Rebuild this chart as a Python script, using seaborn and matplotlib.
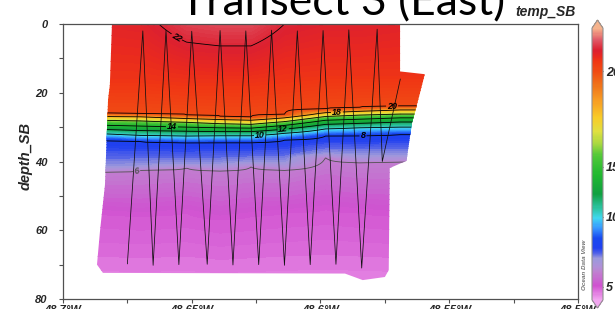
import numpy as np
import matplotlib
matplotlib.use("Agg")
import matplotlib.pyplot as plt
from matplotlib.colors import LinearSegmentedColormap, FuncNorm
from matplotlib.patches import Polygon
import seaborn as sns

# Section columns used for the gridded field (longitude, west is negative)
col_lon = [-48.688, -48.670, -48.652, -48.639, -48.627, -48.614, -48.598, -48.585, -48.569, -48.555]

surf_temp = [21.6, 21.7, 22.45, 22.6, 22.6, 22.0, 21.8, 21.8, 21.7, 21.7]
bottom_temp = [4.4, 4.4, 4.4, 4.4, 4.4, 4.4, 4.4, 4.4, 4.4, 4.4]
d21 = [16, 16, 17, 17, 17, 16, 15, 15, 15, 15]
d20 = [25.8, 26.0, 26.4, 26.8, 27.0, 26.3, 24.7, 24.3, 23.8, 23.8]
d18 = [26.9, 27.0, 27.5, 27.8, 28.0, 27.3, 25.8, 25.4, 25.0, 25.0]
d16 = [28.0, 28.2, 28.6, 29.0, 29.2, 28.4, 26.9, 26.5, 26.2, 26.2]
d14 = [29.4, 29.7, 30.0, 30.2, 30.3, 29.5, 28.0, 27.7, 27.3, 27.3]
d12 = [30.6, 31.0, 31.2, 31.3, 31.3, 30.6, 29.2, 28.9, 28.5, 28.5]
d10 = [31.8, 32.4, 32.6, 32.5, 32.5, 31.8, 30.5, 30.2, 30.0, 30.0]
d8 = [33.4, 34.2, 34.6, 34.5, 34.5, 33.8, 32.6, 32.5, 32.2, 32.2]
d7 = [41.5, 41.0, 40.5, 40.5, 40.0, 40.0, 37.5, 38.0, 38.0, 38.0]
d6 = [43.2, 42.6, 41.9, 42.8, 41.6, 42.6, 38.9, 40.4, 40.1, 40.1]
d5 = [55, 56, 55, 57, 56, 55, 54, 55, 56, 56]

# Outline of the data coverage
cover_lon = [-48.681, -48.5691, -48.5691, -48.5595, -48.5622, -48.5645, -48.5666, -48.5731,
             -48.5735, -48.575, -48.5836, -48.5905, -48.6845, -48.6868, -48.6856, -48.6837,
             -48.6825, -48.6818]
cover_depth = [0.3, 0.3, 13.8, 14.6, 22.5, 28.8, 39.8, 41.9, 71.6, 73.6, 74.5, 72.6, 72.4,
               70.0, 60.0, 46.8, 22.0, 17.7]

# Towed profiler track (yo-yo)
track_lon = [-48.675, -48.669, -48.665, -48.660, -48.655, -48.650, -48.644, -48.639, -48.634,
             -48.629, -48.624, -48.619, -48.614, -48.609, -48.604, -48.599, -48.594, -48.589,
             -48.584, -48.578, -48.576, -48.569]
track_depth = [69.8, 2.0, 70.2, 1.8, 70.0, 2.1, 69.9, 1.9, 70.1, 2.0, 70.0, 1.8, 70.2, 2.0,
               70.0, 1.9, 69.9, 1.7, 71.0, 1.5, 40.0, 16.0]

# Contour levels and where their labels sit
line_levels = [6, 8, 10, 12, 14, 16, 18, 20, 22]
label_lon = [-48.6713, -48.5835, -48.6235, -48.6146, -48.6577, -48.5936, -48.5722, -48.6546]
label_depth = [43.4, 32.6, 32.3, 30.7, 30.2, 26.0, 23.8, 2.2]

# Axis ticks
x_major = [-48.7, -48.65, -48.6, -48.55, -48.5]
x_labels = ["48.7°W", "48.65°W", "48.6°W", "48.55°W", "48.5°W"]
x_minor = [-48.675, -48.625, -48.575, -48.525]
y_major = [0, 20, 40, 60, 80]
y_minor = [10, 30, 50, 70]
cb_ticks = [5, 10, 15, 20]

# ODV style non-linear colour scale
scale_vals = [-50, 4, 5, 10, 15, 20, 24, 80]
scale_pos = [-2.592, 0, 0.048, 0.305, 0.489, 0.842, 1.0, 3.212]
cmap_pos = [0.0, 0.05, 0.10, 0.12, 0.15, 0.17, 0.19, 0.225, 0.265, 0.30, 0.33, 0.39, 0.46,
            0.53, 0.575, 0.62, 0.67, 0.73, 0.79, 0.842, 0.88, 0.90, 0.92, 0.96, 1.0]
cmap_colors = ["#f2a6f0", "#d050d0", "#c080d0", "#b090d8", "#9c98dc", "#5060e8", "#2040f0",
               "#1848f0", "#3898ff", "#40d8f0", "#30c8b0", "#10a040", "#20b830", "#50c838",
               "#a8d840", "#e0e040", "#f8cc28", "#f8a024", "#f0741a", "#f04c14", "#f03614",
               "#e82820", "#dc2030", "#e05a68", "#f6b38c"]


def fwd(v):
    return np.interp(v, scale_vals, scale_pos)


def inv(p):
    return np.interp(p, scale_pos, scale_vals)


sns.set_style("ticks")
plt.rcParams['font.family'] = ['Liberation Sans', 'DejaVu Sans']

# temperature profiles per column
iso_temps = [21, 20, 18, 16, 14, 12, 10, 8, 7, 6, 5]
iso_depths = [d21, d20, d18, d16, d14, d12, d10, d8, d7, d6, d5]
zz = np.linspace(0, 80, 401)
temp = np.empty((len(zz), len(col_lon)))
for j in range(len(col_lon)):
    dep = [0] + [d[j] for d in iso_depths] + [80]
    tmp = [surf_temp[j]] + iso_temps + [bottom_temp[j]]
    temp[:, j] = np.interp(zz, dep, tmp)

cmap = LinearSegmentedColormap.from_list("odv", list(zip(cmap_pos, cmap_colors)))
norm = FuncNorm((fwd, inv), vmin=4, vmax=24)

fig = plt.figure(figsize=(6.15, 3.09), dpi=100)
ax = fig.add_axes([63 / 615, 1 - 299 / 309, 515 / 615, 275 / 309])

coverage = Polygon(np.column_stack([cover_lon, cover_depth]), closed=True,
                   transform=ax.transData, facecolor="none", edgecolor="none")

cf = ax.contourf(col_lon, zz, temp, levels=np.linspace(4, 24, 201), cmap=cmap, norm=norm)
cf.set_clip_path(coverage)

line_colors = ["#505050"] + ["black"] * (len(line_levels) - 1)
cl = ax.contour(col_lon, zz, temp, levels=line_levels, colors=line_colors, linewidths=0.6)
cl.set_clip_path(coverage)

sns.lineplot(x=track_lon, y=track_depth, sort=False, estimator=None, color="#101010",
             lw=0.55, ax=ax, zorder=3)

ax.set_xlim(-48.7, -48.5)
ax.set_ylim(80, 0)

labels = ax.clabel(cl, manual=list(zip(label_lon, label_depth)),
                   fmt="%d", fontsize=6.5, inline=True, inline_spacing=1)
for t in labels:
    t.set_fontweight("bold")
    t.set_fontstyle("italic")

ax.set_xticks(x_major)
ax.set_xticklabels(x_labels)
ax.set_xticks(x_minor, minor=True)
ax.set_yticks(y_major)
ax.set_yticks(y_minor, minor=True)
ax.tick_params(axis="x", which="both", direction="out", length=3, width=0.8,
               color="#505050", labelsize=8, pad=1)
ax.tick_params(axis="y", which="both", direction="out", length=3, width=0.8,
               color="#505050", labelsize=8, pad=8)
for lbl in ax.get_xticklabels() + ax.get_yticklabels():
    lbl.set_fontweight("bold")
    lbl.set_fontstyle("italic")
for sp in ax.spines.values():
    sp.set_visible(True)
    sp.set_color("#505050")
    sp.set_linewidth(0.9)

ax.set_xlabel("")
ax.set_ylabel("depth_SB", fontsize=10.5, fontweight="bold", fontstyle="italic")
ax.yaxis.set_label_coords(-30 / 515, 0.52)

# colour bar
cax = fig.add_axes([592 / 615, 1 - 308 / 309, 11 / 615, 288 / 309])
sm = plt.cm.ScalarMappable(norm=norm, cmap=cmap)
cb = fig.colorbar(sm, cax=cax, extend="both", extendfrac=0.03, ticks=cb_ticks)
cb.outline.set_edgecolor("#909090")
cb.outline.set_linewidth(0.8)
cax.tick_params(length=2, width=0.8, direction="in", color="#404040", labelsize=9, pad=2)
cax.set_yticklabels([str(t) for t in cb_ticks])
for lbl in cax.get_yticklabels():
    lbl.set_fontweight("bold")
    lbl.set_fontstyle("italic")

fig.text(585 / 615, 1 - 265 / 309, "Ocean Data View", rotation=90, fontsize=4.5,
         color="#707070", fontweight="bold", fontstyle="italic", ha="center", va="center")

fig.text(505 / 615, 1 - 15 / 309, "Transect 3 (East)", ha="right", va="baseline",
         fontsize=32, family="Lato", color="black")
fig.text(576 / 615, 1 - 16 / 309, "temp_SB", ha="right", va="baseline", fontsize=10,
         fontweight="bold", fontstyle="italic")

fig.savefig("out.png", dpi=100)
